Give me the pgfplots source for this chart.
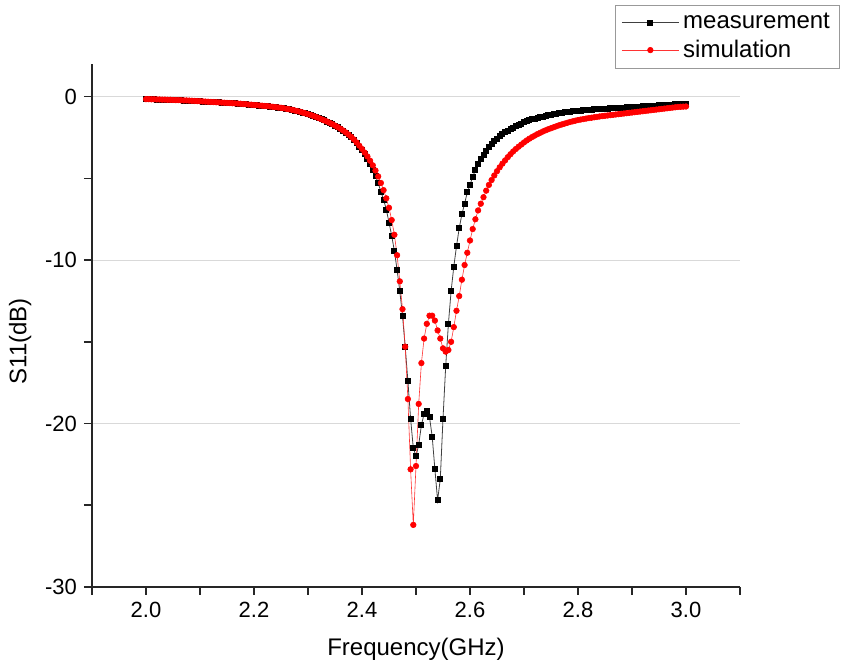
\documentclass[border=0pt]{standalone}
\usepackage{fontspec}
\setmainfont{Liberation Sans}
\usepackage{pgfplots}
\usepackage{pgfplotstable}
\pgfplotsset{compat=1.18}

% f (GHz), measurement (dB), simulation (dB)
\pgfplotstableread{
f m s
2.000 -0.15 -0.15
2.005 -0.15 -0.15
2.010 -0.16 -0.16
2.015 -0.16 -0.16
2.020 -0.17 -0.17
2.025 -0.17 -0.17
2.030 -0.18 -0.18
2.035 -0.18 -0.18
2.040 -0.19 -0.19
2.045 -0.19 -0.19
2.050 -0.20 -0.20
2.055 -0.21 -0.21
2.060 -0.21 -0.21
2.065 -0.22 -0.22
2.070 -0.23 -0.23
2.075 -0.23 -0.23
2.080 -0.24 -0.24
2.085 -0.25 -0.25
2.090 -0.26 -0.26
2.095 -0.27 -0.27
2.100 -0.28 -0.28
2.105 -0.29 -0.29
2.110 -0.30 -0.30
2.115 -0.31 -0.31
2.120 -0.32 -0.32
2.125 -0.33 -0.33
2.130 -0.34 -0.34
2.135 -0.35 -0.35
2.140 -0.36 -0.36
2.145 -0.37 -0.37
2.150 -0.38 -0.38
2.155 -0.39 -0.39
2.160 -0.40 -0.40
2.165 -0.41 -0.41
2.170 -0.42 -0.42
2.175 -0.43 -0.43
2.180 -0.45 -0.45
2.185 -0.46 -0.46
2.190 -0.48 -0.48
2.195 -0.49 -0.49
2.200 -0.51 -0.51
2.205 -0.52 -0.52
2.210 -0.54 -0.54
2.215 -0.55 -0.55
2.220 -0.57 -0.57
2.225 -0.58 -0.58
2.230 -0.60 -0.60
2.235 -0.62 -0.62
2.240 -0.64 -0.64
2.245 -0.66 -0.66
2.250 -0.68 -0.68
2.255 -0.71 -0.71
2.260 -0.74 -0.74
2.265 -0.77 -0.77
2.270 -0.80 -0.80
2.275 -0.84 -0.84
2.280 -0.88 -0.88
2.285 -0.92 -0.92
2.290 -0.97 -0.97
2.295 -1.02 -1.02
2.300 -1.07 -1.07
2.305 -1.12 -1.12
2.310 -1.18 -1.18
2.315 -1.24 -1.24
2.320 -1.31 -1.31
2.325 -1.38 -1.38
2.330 -1.45 -1.45
2.335 -1.52 -1.52
2.340 -1.60 -1.60
2.345 -1.68 -1.68
2.350 -1.77 -1.77
2.355 -1.86 -1.86
2.360 -1.96 -1.96
2.365 -2.07 -2.07
2.370 -2.20 -2.19
2.375 -2.34 -2.32
2.380 -2.49 -2.46
2.385 -2.66 -2.62
2.390 -2.85 -2.80
2.395 -3.05 -3.00
2.400 -3.25 -3.20
2.405 -3.50 -3.42
2.410 -3.80 -3.66
2.415 -4.10 -3.92
2.420 -4.45 -4.20
2.425 -4.85 -4.52
2.430 -5.30 -4.88
2.435 -5.80 -5.28
2.440 -6.30 -5.72
2.445 -6.90 -6.22
2.450 -7.70 -6.80
2.455 -8.50 -7.55
2.460 -9.45 -8.45
2.465 -10.60 -9.70
2.470 -11.90 -11.30
2.475 -13.40 -13.00
2.480 -15.30 -15.30
2.485 -17.40 -18.50
2.490 -19.70 -22.80
2.495 -21.50 -26.20
2.500 -22.00 -22.60
2.505 -21.30 -18.80
2.510 -20.10 -16.30
2.515 -19.40 -14.80
2.520 -19.20 -13.90
2.525 -19.60 -13.40
2.530 -20.80 -13.40
2.535 -22.80 -13.70
2.540 -24.70 -14.30
2.545 -23.40 -14.80
2.550 -19.70 -15.40
2.555 -16.50 -15.60
2.560 -13.90 -15.50
2.565 -11.90 -15.00
2.570 -10.40 -14.10
2.575 -9.15 -13.10
2.580 -8.05 -12.20
2.585 -7.20 -11.20
2.590 -6.55 -10.30
2.595 -5.85 -9.55
2.600 -5.40 -8.80
2.605 -4.90 -8.10
2.610 -4.50 -7.50
2.615 -4.10 -6.96
2.620 -3.80 -6.55
2.625 -3.55 -6.15
2.630 -3.30 -5.75
2.635 -3.08 -5.40
2.640 -2.88 -5.10
2.645 -2.72 -4.82
2.650 -2.57 -4.56
2.655 -2.43 -4.32
2.660 -2.30 -4.10
2.665 -2.18 -3.90
2.670 -2.07 -3.70
2.675 -1.97 -3.52
2.680 -1.88 -3.35
2.685 -1.79 -3.20
2.690 -1.71 -3.06
2.695 -1.64 -2.93
2.700 -1.57 -2.80
2.705 -1.50 -2.68
2.710 -1.44 -2.57
2.715 -1.39 -2.47
2.720 -1.34 -2.38
2.725 -1.29 -2.29
2.730 -1.25 -2.21
2.735 -1.21 -2.13
2.740 -1.17 -2.06
2.745 -1.13 -1.99
2.750 -1.10 -1.93
2.755 -1.07 -1.87
2.760 -1.04 -1.81
2.765 -1.01 -1.75
2.770 -0.98 -1.70
2.775 -0.96 -1.65
2.780 -0.93 -1.60
2.785 -0.91 -1.55
2.790 -0.89 -1.51
2.795 -0.87 -1.47
2.800 -0.85 -1.43
2.805 -0.84 -1.40
2.810 -0.82 -1.37
2.815 -0.81 -1.34
2.820 -0.79 -1.31
2.825 -0.78 -1.29
2.830 -0.77 -1.26
2.835 -0.76 -1.24
2.840 -0.75 -1.21
2.845 -0.74 -1.19
2.850 -0.73 -1.17
2.855 -0.72 -1.15
2.860 -0.71 -1.13
2.865 -0.70 -1.11
2.870 -0.69 -1.09
2.875 -0.68 -1.07
2.880 -0.67 -1.05
2.885 -0.66 -1.03
2.890 -0.65 -1.01
2.895 -0.64 -0.99
2.900 -0.63 -0.97
2.905 -0.62 -0.95
2.910 -0.61 -0.93
2.915 -0.60 -0.91
2.920 -0.59 -0.89
2.925 -0.58 -0.87
2.930 -0.57 -0.85
2.935 -0.56 -0.83
2.940 -0.55 -0.81
2.945 -0.54 -0.79
2.950 -0.53 -0.77
2.955 -0.52 -0.75
2.960 -0.51 -0.73
2.965 -0.50 -0.71
2.970 -0.49 -0.69
2.975 -0.48 -0.67
2.980 -0.47 -0.65
2.985 -0.46 -0.63
2.990 -0.45 -0.62
2.995 -0.44 -0.61
3.000 -0.43 -0.60
}\sdata

\begin{document}
\begin{tikzpicture}
\path[use as bounding box] (-46pt,-40pt) rectangle (375.5pt,293.5pt);
\begin{axis}[
    at={(0,0)}, anchor=south west,
    scale only axis,
    width=324pt, height=261.5pt,
    xmin=1.9, xmax=3.1, ymin=-30, ymax=2,
    axis x line=bottom, axis y line=left,
    axis line style={-, line width=0.8pt, black!85},
    xtick={2.0,2.2,2.4,2.6,2.8,3.0},
    xticklabels={2.0,2.2,2.4,2.6,2.8,3.0},
    minor xtick={1.9,2.1,2.3,2.5,2.7,2.9,3.1},
    ytick={-30,-20,-10,0},
    yticklabels={-30,-20,-10,0},
    minor ytick={-25,-15,-5},
    tick align=outside,
    major tick length=4pt, minor tick length=4pt,
    tick style={line width=0.8pt, black!85},
    ymajorgrids, grid style={gray!30, line width=0.6pt},
    tick label style={font=\fontsize{11}{13}\selectfont},
    xlabel={Frequency(GHz)}, ylabel={S11(dB)},
    label style={font=\fontsize{12}{14}\selectfont},
    xlabel style={at={(axis description cs:0.5,-0.12)}, anchor=center},
    ylabel style={at={(axis description cs:-0.111,0.47)}, anchor=center},
    legend style={at={(1.155,1.113)}, anchor=north east, draw=gray!80,
        line width=0.5pt, font=\fontsize{12}{14}\selectfont,
        cells={anchor=west}, inner xsep=3pt, inner ysep=2pt},
    legend image code/.code={\draw[mark repeat=2, mark phase=2]
        plot coordinates {(0cm,0cm) (0.5cm,0cm) (1cm,0cm)};},
]
\addplot[draw=black!75, line width=0.4pt, mark=square*, mark size=1.25pt,
    mark options={fill=black, draw=black}] table[x=f, y=m] {\sdata};
\addlegendentry{measurement}
\addplot[draw=red!80, line width=0.3pt, mark=*, mark size=1.4pt,
    mark options={fill=red, draw=red}] table[x=f, y=s] {\sdata};
\addlegendentry{simulation}
\end{axis}
\end{tikzpicture}
\end{document}
